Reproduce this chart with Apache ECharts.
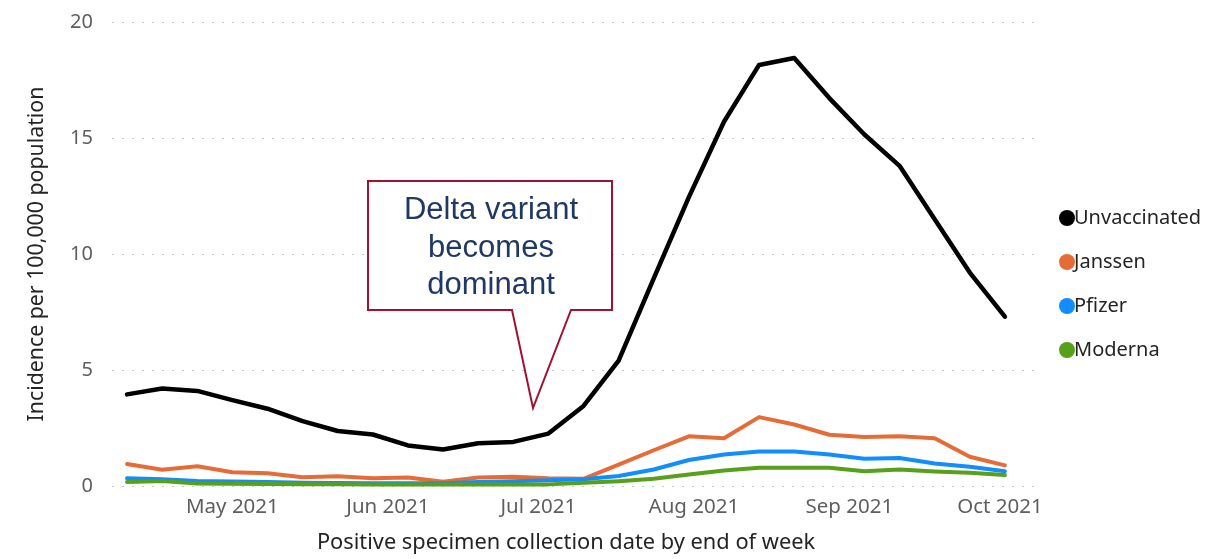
<!DOCTYPE html>
<html>
<head>
<meta charset="utf-8">
<script src="https://cdn.jsdelivr.net/npm/echarts@6/dist/echarts.min.js"></script>
<style>html,body{margin:0;padding:0;background:#fff}#c{width:1227px;height:559px}</style>
</head>
<body>
<div id="c"></div>
<script>
const weeks = ['2021-04-10','2021-04-17','2021-04-24','2021-05-01','2021-05-08','2021-05-15','2021-05-22','2021-05-29','2021-06-05','2021-06-12','2021-06-19','2021-06-26','2021-07-03','2021-07-10','2021-07-17','2021-07-24','2021-07-31','2021-08-07','2021-08-14','2021-08-21','2021-08-28','2021-09-04','2021-09-11','2021-09-18','2021-09-25','2021-10-02'];
const unvaccinated = [3.95,4.2,4.1,3.7,3.33,2.8,2.37,2.22,1.75,1.57,1.84,1.9,2.26,3.45,5.4,8.95,12.45,15.7,18.15,18.45,16.72,15.15,13.8,11.5,9.2,7.3];
const janssen = [0.95,0.7,0.85,0.59,0.55,0.38,0.42,0.33,0.37,0.18,0.37,0.4,0.33,0.31,0.92,1.54,2.14,2.06,2.97,2.65,2.21,2.11,2.14,2.06,1.26,0.89];
const pfizer = [0.33,0.29,0.22,0.19,0.17,0.14,0.13,0.12,0.12,0.12,0.17,0.2,0.25,0.29,0.43,0.71,1.12,1.36,1.49,1.49,1.36,1.17,1.21,0.97,0.83,0.64];
const moderna = [0.17,0.22,0.11,0.1,0.09,0.08,0.08,0.07,0.07,0.07,0.07,0.07,0.07,0.14,0.21,0.31,0.5,0.67,0.79,0.79,0.79,0.64,0.71,0.63,0.57,0.47];
const seriesNames = ['Unvaccinated','Janssen','Pfizer','Moderna'];
const seriesColors = ['#000000','#E66C37','#118DFF','#56A01B'];
const yTicks = [0,5,10,15,20];
const annotationLines = ['Delta variant','becomes','dominant'];

const allData = [unvaccinated, janssen, pfizer, moderna];
const chart = echarts.init(document.getElementById('c'), null, {renderer:'canvas'});
const font = '"Noto Sans","Open Sans",sans-serif';
chart.setOption({
  animation:false,
  backgroundColor:'#fff',
  grid:{left:112, right:187, top:22, bottom:72},
  legend:{
    orient:'vertical', left:1054, top:203, itemGap:24,
    icon:'circle', itemWidth:16, itemHeight:16,
    textStyle:{fontFamily:font, fontSize:20, color:'#252423', padding:[0,0,0,-6]},
    data:seriesNames
  },
  xAxis:{
    type:'time',
    min:'2021-04-07', max:'2021-10-09',
    minInterval:28*86400000, maxInterval:31*86400000,
    axisLine:{show:false}, axisTick:{show:false}, splitLine:{show:false},
    axisLabel:{fontFamily:font, fontSize:20.5, color:'#605E5C', margin:11,
      showMinLabel:false, showMaxLabel:false,
      formatter:function(v){const d=new Date(v);const m=['Jan','Feb','Mar','Apr','May','Jun','Jul','Aug','Sep','Oct','Nov','Dec'];return m[d.getMonth()]+' '+d.getFullYear();}},
    name:'Positive specimen collection date by end of week',
    nameLocation:'middle', nameGap:46,
    nameTextStyle:{fontFamily:font, fontSize:21.8, color:'#252423', padding:[0,20,0,0]}
  },
  yAxis:{
    type:'value', min:yTicks[0], max:yTicks[yTicks.length-1], interval:5,
    axisLine:{show:false}, axisTick:{show:false},
    splitLine:{lineStyle:{type:[2,8], color:'#C8C8C8', width:1}},
    axisLabel:{fontFamily:font, fontSize:20, color:'#605E5C', margin:19},
    name:'Incidence per 100,000 population',
    nameLocation:'middle', nameGap:65,
    nameTextStyle:{fontFamily:font, fontSize:21.3, color:'#252423'}
  },
  series: seriesNames.map((n,i)=>({
    name:n, type:'line', showSymbol:false, symbol:'circle',
    color:seriesColors[i],
    lineStyle:{width:i===0?4.5:4, color:seriesColors[i], join:'round', cap:'round'},
    data: weeks.map((w,j)=>[w, allData[i][j]])
  })),
  graphic:[
    {type:'polygon', z:100,
     shape:{points:[[368,181],[612,181],[612,310],[571,310],[533,408],[512,310],[368,310]]},
     style:{fill:'#ffffff', stroke:'#A0122F', lineWidth:2}},
    {type:'text', z:101, x:491, y:192,
     style:{text:annotationLines.join('\n'), align:'center', verticalAlign:'top',
       font:'31px "Liberation Sans", Arial, sans-serif', lineHeight:37.5, fill:'#1F3864'}}
  ]
});
</script>
</body>
</html>
